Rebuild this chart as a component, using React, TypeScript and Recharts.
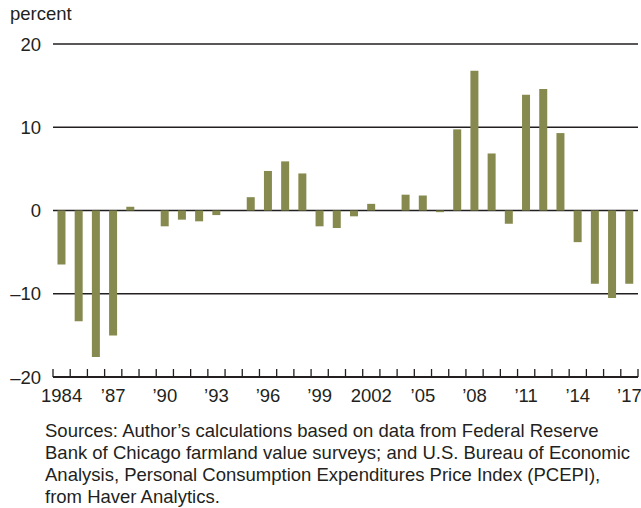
import { Bar, BarChart, CartesianGrid, XAxis, YAxis } from "recharts";


const YEARS = [
  1984, 1985, 1986, 1987, 1988, 1989, 1990, 1991, 1992, 1993, 1994, 1995,
  1996, 1997, 1998, 1999, 2000, 2001, 2002, 2003, 2004, 2005, 2006, 2007,
  2008, 2009, 2010, 2011, 2012, 2013, 2014, 2015, 2016, 2017,
];
const VALUES = [
  -6.5, -13.3, -17.6, -15.0, 0.45, 0, -1.9, -1.1, -1.3, -0.55, 0, 1.6,
  4.75, 5.9, 4.45, -1.9, -2.1, -0.7, 0.8, 0, 1.9, 1.8, -0.2, 9.75,
  16.8, 6.85, -1.6, 13.9, 14.6, 9.3, -3.8, -8.8, -10.5, -8.8,
];
const TICK_LABELS = ["1984", "\u201987", "\u201990", "\u201993", "\u201996", "\u201999", "2002", "\u201905", "\u201908", "\u201911", "\u201914", "\u201917"];
const Y_TICKS = [-20, -10, 0, 10, 20];

const SOURCE_LINES = [
  "Sources: Author\u2019s calculations based on data from Federal Reserve",
  "Bank of Chicago farmland value surveys; and U.S. Bureau of Economic",
  "Analysis, Personal Consumption Expenditures Price Index (PCEPI),",
  "from Haver Analytics.",
];

const data = YEARS.map((year, i) => ({ year, value: VALUES[i] }));

const INK = "#231f20";
const BAR = "#868a4f";
const FONT = "'Liberation Sans', Arial, Helvetica, sans-serif";
const FS = 18.5;

const WIDTH = 641;
const Y_AXIS_W = 53;
const MARGIN_RIGHT = 3;
const BAND = (WIDTH - Y_AXIS_W - MARGIN_RIGHT) / YEARS.length;


function YearTick(props: any) {
  const { x, y, index } = props;
  const half = BAND / 2;
  return (
    <g>
      <line x1={x - half} x2={x - half} y1={y} y2={y - 8} stroke={INK} strokeWidth={1.3} />
      {index === YEARS.length - 1 && (
        <line x1={x + half} x2={x + half} y1={y} y2={y - 8} stroke={INK} strokeWidth={1.3} />
      )}
      {index % 3 === 0 && (
        <text x={x} y={y + 25} textAnchor="middle" fill={INK} fontSize={FS} fontFamily={FONT}>
          {TICK_LABELS[index / 3]}
        </text>
      )}
    </g>
  );
}


export default function App() {
  return (
    <div style={{ position: "absolute", left: 0, top: 0, width: WIDTH, height: 508, background: "#fff", fontFamily: FONT, color: INK }}>
      <div style={{ position: "absolute", left: 10, top: 3, fontSize: FS }}>percent</div>

      <BarChart
        width={WIDTH}
        height={410}
        data={data}
        margin={{ top: 44, right: MARGIN_RIGHT, bottom: 0, left: 0 }}
        barCategoryGap="26%"
      >
        <CartesianGrid vertical={false} stroke={INK} strokeWidth={1.3} strokeDasharray="" />
        <XAxis
          dataKey="year"
          interval={0}
          height={33}
          tickSize={0}
          tickMargin={0}
          tickLine={false}
          axisLine={{ stroke: INK, strokeWidth: 2 }}
          tick={<YearTick />}
        />
        <YAxis
          domain={[-20, 20]}
          ticks={Y_TICKS}
          width={Y_AXIS_W}
          axisLine={false}
          tickLine={false}
          tickSize={0}
          tickMargin={12}
          tick={{ fill: INK, fontSize: FS, fontFamily: FONT }}
          tickFormatter={(v: number) => (v < 0 ? `\u2013${Math.abs(v)}` : `${v}`)}
        />
        <Bar dataKey="value" fill={BAR} isAnimationActive={false} />
      </BarChart>

      <div style={{ position: "absolute", left: 45, top: 420, fontSize: FS, lineHeight: "22px" }}>
        {SOURCE_LINES.map((line) => (
          <div key={line}>{line}</div>
        ))}
      </div>
    </div>
  );
}
